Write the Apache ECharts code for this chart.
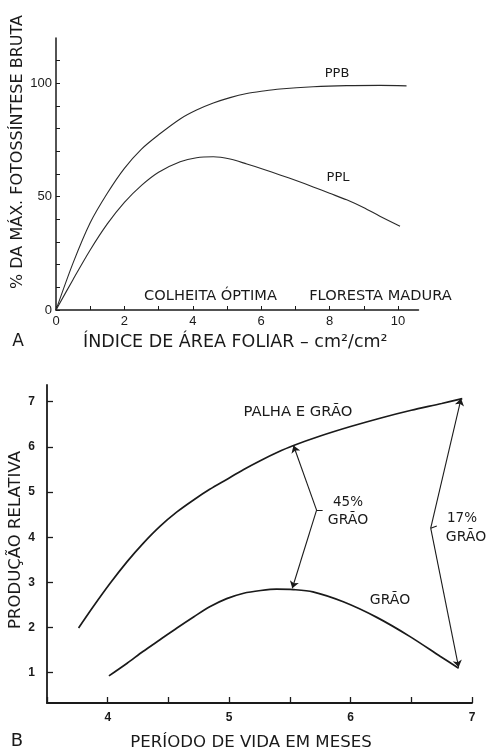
<!DOCTYPE html>
<html>
<head>
<meta charset="utf-8">
<script src="https://cdn.jsdelivr.net/npm/echarts@6/dist/echarts.min.js"></script>
<style>
html,body{margin:0;padding:0;background:#fff;}
#chart{width:487px;height:753px;}
</style>
</head>
<body>
<div id="chart"></div>
<script>
// ---- Panel A data: % of max gross photosynthesis vs leaf area index
const ppbData = [[0,0],[0.5,20.8],[1,38.5],[1.5,51.5],[2,62.5],[2.5,71],[3,77.3],[3.63,84.3],[4.11,88.2],[4.6,91.3],[5.09,93.7],[5.58,95.5],[6.06,96.6],[6.55,97.5],[7.52,98.5],[8.5,99],[9.47,99.1],[10.25,98.9]];
const pplData = [[0,0],[0.5,13.5],[1,26.5],[1.5,38],[2,47.5],[2.5,55],[3,60.8],[3.63,65.4],[4.11,67.2],[4.6,67.6],[5.09,66.6],[5.58,64.4],[6.06,62.1],[6.55,59.6],[7.04,57],[7.52,54.3],[8,51.5],[8.5,48.6],[8.99,45.2],[9.47,41.4],[10.06,37]];
const aYLabels = [0, 50, 100];
const aXLabels = [0, 2, 4, 6, 8, 10];

// ---- Panel B data: relative production vs life period (months)
const palhaGraoData = [[3.76,1.99],[3.88,2.46],[4.02,2.98],[4.16,3.46],[4.29,3.86],[4.43,4.24],[4.57,4.56],[4.71,4.83],[4.84,5.06],[4.98,5.28],[5.12,5.5],[5.26,5.7],[5.39,5.87],[5.53,6.03],[5.75,6.24],[6,6.45],[6.25,6.64],[6.5,6.81],[6.75,6.96],[6.92,7.07]];
const graoData = [[4.01,0.93],[4.16,1.21],[4.29,1.47],[4.43,1.73],[4.57,1.99],[4.71,2.24],[4.84,2.46],[4.98,2.64],[5.12,2.76],[5.26,2.82],[5.39,2.85],[5.53,2.84],[5.69,2.79],[5.94,2.57],[6.22,2.22],[6.49,1.8],[6.74,1.36],[6.89,1.1]];
const arrow45 = { top:[5.53,6.03], vertex:[5.72,4.6], bottom:[5.52,2.87] };
const arrow17 = { top:[6.91,7.07], vertex:[6.66,4.2], bottom:[6.89,1.12] };
const bYTicks = [1,2,3,4,5,6,7];
const bXLabels = [4,5,6,7];

const INK = '#1a1a1a';
const FONT = '"Liberation Sans", Arial, sans-serif';
const WFONT = '"DejaVu Sans", sans-serif';

function txt(text, x, y, size, opts) {
  return Object.assign({
    type: 'text', x: x, y: y,
    style: Object.assign({ text: text, font: size + 'px ' + WFONT, fill: INK, align: 'center', verticalAlign: 'middle' }, (opts && opts.style) || {})
  }, (opts && opts.el) || {});
}

const chart = echarts.init(document.getElementById('chart'), null, { renderer: 'canvas' });
chart.setOption({
  backgroundColor: '#fff',
  animation: false,
  grid: [
    { left: 56, top: 38, width: 362.5, height: 272 },
    { left: 47, top: 385, width: 425, height: 318 }
  ],
  xAxis: [
    {
      gridIndex: 0, type: 'value', min: 0, max: 10.6, interval: 1,
      axisLine: { lineStyle: { color: INK, width: 1.5 } },
      axisTick: { inside: true, length: 4, lineStyle: { color: INK } },
      splitLine: { show: false },
      axisLabel: { margin: 5, color: INK, fontSize: 13, fontFamily: FONT, showMaxLabel: false,
        formatter: v => aXLabels.indexOf(v) >= 0 ? String(v) : '' }
    },
    {
      gridIndex: 1, type: 'value', min: 3.5, max: 7, interval: 0.5,
      axisLine: { lineStyle: { color: INK, width: 1.8 } },
      axisTick: { inside: true, length: 6, lineStyle: { color: INK, width: 1.3 } },
      splitLine: { show: false },
      axisLabel: { margin: 9, color: INK, fontSize: 12, fontWeight: 'bold', fontFamily: FONT,
        formatter: v => bXLabels.indexOf(v) >= 0 ? String(v) : '' }
    }
  ],
  yAxis: [
    {
      gridIndex: 0, type: 'value', min: 0, max: 120, interval: 10,
      axisLine: { show: true, lineStyle: { color: INK, width: 1.5 } },
      axisTick: { show: true, inside: true, length: 4, lineStyle: { color: INK } },
      splitLine: { show: false },
      axisLabel: { margin: 4, color: INK, fontSize: 13, fontFamily: FONT, showMaxLabel: false,
        formatter: v => aYLabels.indexOf(v) >= 0 ? String(v) : '' }
    },
    {
      gridIndex: 1, type: 'value', min: 0.33, max: 7.37,
      axisLine: { show: true, lineStyle: { color: INK, width: 1.8 } },
      axisTick: { show: true, inside: true, length: 6, customValues: bYTicks, lineStyle: { color: INK, width: 1.3 } },
      splitLine: { show: false },
      axisLabel: { margin: 12, color: INK, fontSize: 12, fontWeight: 'bold', fontFamily: FONT, customValues: bYTicks,
        formatter: v => bYTicks.indexOf(v) >= 0 ? String(v) : '' }
    }
  ],
  series: [
    { type: 'line', name: 'PPB', xAxisIndex: 0, yAxisIndex: 0, data: ppbData, smooth: 0.3, showSymbol: false,
      lineStyle: { color: '#2a2a2a', width: 1.1 } },
    { type: 'line', name: 'PPL', xAxisIndex: 0, yAxisIndex: 0, data: pplData, smooth: 0.3, showSymbol: false,
      lineStyle: { color: '#2a2a2a', width: 1.1 } },
    { type: 'line', name: 'PALHA E GRÃO', xAxisIndex: 1, yAxisIndex: 1, data: palhaGraoData, smooth: 0.3, showSymbol: false,
      lineStyle: { color: INK, width: 1.7 } },
    { type: 'line', name: 'GRÃO', xAxisIndex: 1, yAxisIndex: 1, data: graoData, smooth: 0.3, showSymbol: false,
      lineStyle: { color: INK, width: 1.7 } },
    { type: 'lines', coordinateSystem: 'cartesian2d', xAxisIndex: 1, yAxisIndex: 1,
      symbol: ['none', 'arrow'], symbolSize: [0, 7],
      lineStyle: { color: INK, width: 1.1, opacity: 1 },
      data: [
        { coords: [arrow45.vertex, arrow45.top] },
        { coords: [arrow45.vertex, arrow45.bottom] },
        { coords: [arrow17.vertex, arrow17.top] },
        { coords: [arrow17.vertex, arrow17.bottom] }
      ] },
    { type: 'lines', coordinateSystem: 'cartesian2d', xAxisIndex: 1, yAxisIndex: 1,
      symbol: ['none', 'none'],
      lineStyle: { color: INK, width: 1.1, opacity: 1 },
      data: [
        { coords: [arrow45.vertex, [arrow45.vertex[0] + 0.05, arrow45.vertex[1]]] },
        { coords: [arrow17.vertex, [arrow17.vertex[0] + 0.05, arrow17.vertex[1] + 0.05]] }
      ] }
  ],
  graphic: [
    // Panel A texts
    txt('% DA MÁX. FOTOSSÍNTESE BRUTA', 18, 152, 16, { el: { rotation: Math.PI / 2 } }),
    txt('PPB', 337, 74, 13),
    txt('PPL', 338, 178, 13),
    txt('COLHEITA ÓPTIMA', 210.5, 296, 14.6),
    txt('FLORESTA MADURA', 380.5, 296, 14.6),
    { type: 'text', x: 83, y: 342, style: { text: 'ÍNDICE DE ÁREA FOLIAR – cm²/cm²', font: '17.5px ' + WFONT, fill: INK, align: 'left', verticalAlign: 'middle' } },
    txt('A', 18, 342, 17),
    // Panel B texts
    txt('PRODUÇÃO RELATIVA', 16, 540, 16.5, { el: { rotation: Math.PI / 2 } }),
    txt('PALHA E GRÃO', 298, 412, 14.8),
    txt('45%', 348, 502, 13.5),
    txt('GRÃO', 348, 520, 14),
    txt('17%', 462, 518, 13.5),
    txt('GRÃO', 466, 537, 14),
    txt('GRÃO', 390, 600, 14),
    txt('PERÍODO DE VIDA EM MESES', 251, 743, 16.6),
    txt('B', 17, 741, 18)
  ]
});
</script>
</body>
</html>
